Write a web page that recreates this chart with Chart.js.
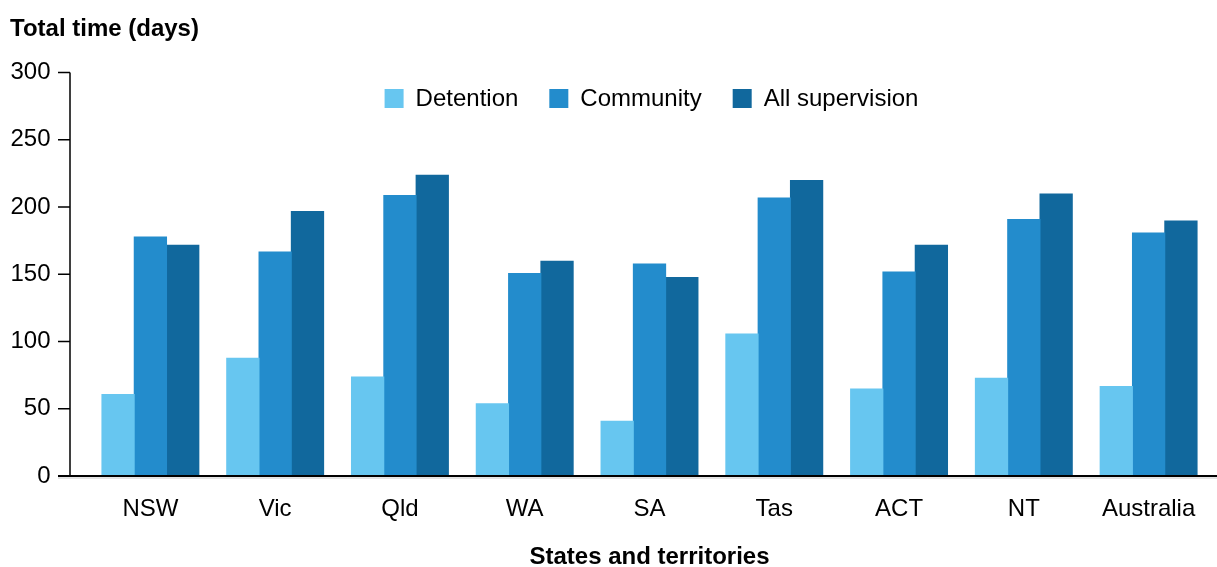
<!DOCTYPE html>
<html>
<head>
<meta charset="utf-8">
<script src="https://cdn.jsdelivr.net/npm/chart.js@4/dist/chart.umd.min.js"></script>
<style>
  html, body { margin: 0; padding: 0; background: #fff; }
</style>
</head>
<body>
<canvas id="myChart" width="1217" height="567"></canvas>
<script>
// chart data
const states = ['NSW', 'Vic', 'Qld', 'WA', 'SA', 'Tas', 'ACT', 'NT', 'Australia'];
const detention = [61, 88, 74, 54, 41, 106, 65, 73, 67];
const community = [178, 167, 209, 151, 158, 207, 152, 191, 181];
const allSupervision = [172, 197, 224, 160, 148, 220, 172, 210, 190];
const yTicks = [0, 50, 100, 150, 200, 250, 300];

const FONT = "'Liberation Sans', Arial, sans-serif";

// axis lines sit left of the plot area, so draw them here
const axisLines = {
  id: 'axisLines',
  afterDraw(chart) {
    const ctx = chart.ctx;
    const y = chart.scales.y;
    const area = chart.chartArea;
    const axisX = 70;
    ctx.save();
    ctx.strokeStyle = '#000';
    ctx.lineWidth = 1.5;
    ctx.beginPath();
    ctx.moveTo(axisX, y.getPixelForValue(300));
    ctx.lineTo(axisX, y.getPixelForValue(0));
    yTicks.forEach(function (t) {
      const py = y.getPixelForValue(t);
      ctx.moveTo(58, py);
      ctx.lineTo(axisX, py);
    });
    ctx.stroke();
    // x axis
    const zeroY = y.getPixelForValue(0);
    ctx.lineWidth = 2;
    ctx.beginPath();
    ctx.moveTo(58, zeroY);
    ctx.lineTo(chart.width, zeroY);
    ctx.stroke();
    ctx.strokeStyle = '#c8c8c8';
    ctx.lineWidth = 1;
    ctx.beginPath();
    ctx.moveTo(58, zeroY + 2);
    ctx.lineTo(chart.width, zeroY + 2);
    ctx.stroke();

    // legend inside plot
    ctx.font = '24px ' + FONT;
    ctx.textBaseline = 'middle';
    const box = 19, gapText = 12, gapItem = 31;
    const items = chart.data.datasets;
    let total = 0;
    items.forEach(function (ds, i) {
      total += box + gapText + ctx.measureText(ds.label).width;
      if (i < items.length - 1) total += gapItem;
    });
    let x = (area.left + area.right) / 2 - total / 2 + 2;
    const cy = 98.5;
    items.forEach(function (ds) {
      ctx.fillStyle = ds.backgroundColor;
      ctx.fillRect(x, cy - box / 2, box, box);
      x += box + gapText;
      ctx.fillStyle = '#000';
      ctx.fillText(ds.label, x, cy + 1);
      x += ctx.measureText(ds.label).width + gapItem;
    });
    ctx.restore();
  }
};

new Chart(document.getElementById('myChart'), {
  type: 'bar',
  data: {
    labels: states,
    datasets: [
      { label: 'Detention', data: detention, backgroundColor: '#67c6f0' },
      { label: 'Community', data: community, backgroundColor: '#238ccc' },
      { label: 'All supervision', data: allSupervision, backgroundColor: '#11689d' }
    ]
  },
  options: {
    responsive: false,
    animation: false,
    devicePixelRatio: 1,
    layout: { padding: { left: 10, right: 6, top: 0, bottom: 0 } },
    datasets: {
      bar: { categoryPercentage: 0.777, barPercentage: 1.03, borderWidth: 0 }
    },
    plugins: {
      legend: { display: false },
      tooltip: { enabled: false },
      title: {
        display: true,
        text: 'Total time (days)',
        align: 'start',
        color: '#000',
        font: { family: FONT, size: 24, weight: 'bold', lineHeight: 1 },
        padding: { top: 17, bottom: 31.5 }
      }
    },
    scales: {
      x: {
        grid: { display: false, drawTicks: false },
        border: { display: false },
        ticks: { color: '#000', font: { family: FONT, size: 24 }, padding: 18.5, maxRotation: 0 },
        title: {
          display: true,
          text: 'States and territories',
          color: '#000',
          font: { family: FONT, size: 24, weight: 'bold', lineHeight: 1 },
          padding: { top: 0, bottom: -2 }
        },
        afterFit: function (scale) { scale.height = 91; }
      },
      y: {
        min: 0,
        max: 300,
        grid: { display: false, drawTicks: false },
        border: { display: false },
        ticks: { stepSize: 50, color: '#000', font: { family: FONT, size: 24 }, padding: 37.5 },
        afterFit: function (scale) { scale.width = 78; }
      }
    }
  },
  plugins: [axisLines]
});
</script>
</body>
</html>
